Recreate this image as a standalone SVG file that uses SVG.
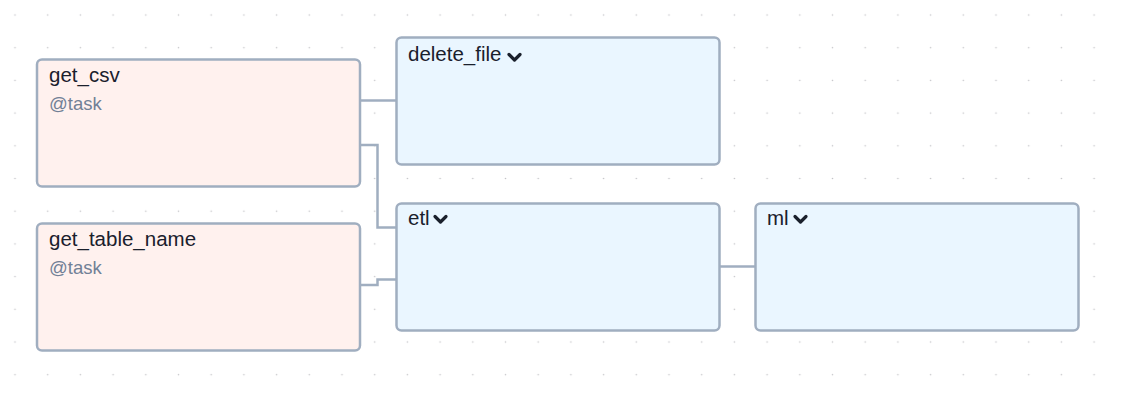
<svg xmlns="http://www.w3.org/2000/svg" width="1121" height="405" viewBox="0 0 1121 405">
  <style>
    .node rect { stroke: #a0aec0; stroke-width: 2.5; }
    .task rect { fill: #fff1ee; }
    .group rect { fill: #eaf6ff; }
    .label { font-family: "Liberation Sans", Arial, sans-serif; font-size: 20.5px; fill: #1a202c; }
    .sub { font-family: "Liberation Sans", Arial, sans-serif; font-size: 18.5px; fill: #718096; }
    .chev { fill: none; stroke: #1a202c; stroke-width: 3.2; stroke-linecap: round; stroke-linejoin: round; }
    .edge { fill: none; stroke: #a0aec0; stroke-width: 2.5; }
  </style>
  <defs>
    <pattern id="dots" patternUnits="userSpaceOnUse" x="-1.35" y="-1.35" width="32.7" height="32.7">
      <circle cx="16.35" cy="16.35" r="0.8" fill="#c4c4c8"/>
    </pattern>
  </defs>

  <rect width="1121" height="405" fill="#ffffff"/>
  <rect width="1121" height="405" fill="url(#dots)"/>

  <!-- dependency edges -->
  <g id="edges">
    <path class="edge" d="M360 100.5 H396"/>
    <path class="edge" d="M360 145 H377.5 V227.5 H396"/>
    <path class="edge" d="M360 285 H377.5 V279.5 H396"/>
    <path class="edge" d="M719 266.5 H755"/>
  </g>

  <g id="get_csv" class="node task">
    <rect x="37" y="59.5" width="323" height="127" rx="5"/>
    <text class="label" x="49" y="81.5">get_csv</text>
    <text class="sub" x="49" y="110">@task</text>
  </g>

  <g id="get_table_name" class="node task">
    <rect x="37" y="223.5" width="323" height="127" rx="5"/>
    <text class="label" x="49" y="245.5">get_table_name</text>
    <text class="sub" x="49" y="274">@task</text>
  </g>

  <g id="delete_file" class="node group">
    <rect x="396.5" y="37.5" width="323" height="127" rx="5"/>
    <text class="label" x="408" y="61">delete_file</text>
    <path class="chev" d="M509 54.5 L514.5 60 L520 54.5"/>
  </g>

  <g id="etl" class="node group">
    <rect x="396.5" y="203.5" width="323" height="127" rx="5"/>
    <text class="label" x="408" y="225">etl</text>
    <path class="chev" d="M435 216.5 L440.5 222 L446 216.5"/>
  </g>

  <g id="ml" class="node group">
    <rect x="755.5" y="203.5" width="323" height="127" rx="5"/>
    <text class="label" x="767" y="225">ml</text>
    <path class="chev" d="M795 216.5 L800.5 222 L806 216.5"/>
  </g>
</svg>
